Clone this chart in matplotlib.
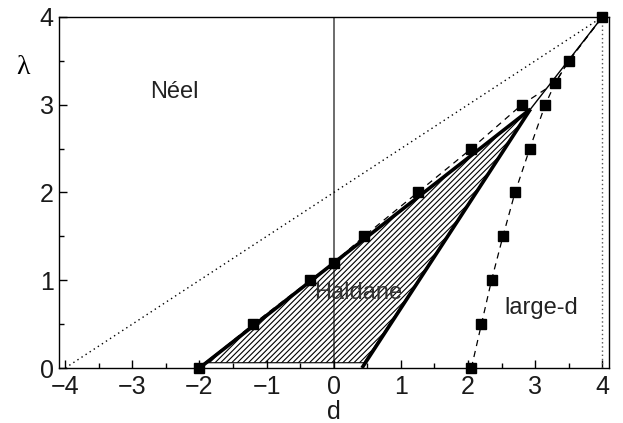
import matplotlib
matplotlib.use("Agg")
import matplotlib.pyplot as plt
from matplotlib.patches import Polygon
from matplotlib.ticker import MultipleLocator

plt.rcParams['font.family'] = ['Liberation Sans', 'DejaVu Sans']
plt.rcParams['hatch.linewidth'] = 0.8

# Néel–Haldane boundary estimates (squares)
left_d = [-2.0, -1.2, -0.35, 0.0, 0.45, 1.25, 2.05, 2.8]
left_lam = [0.0, 0.5, 1.0, 1.2, 1.5, 2.0, 2.5, 3.0]
# Haldane–large-d boundary estimates (squares)
right_d = [2.05, 2.2, 2.35, 2.52, 2.7, 2.92, 3.15]
right_lam = [0.0, 0.5, 1.0, 1.5, 2.0, 2.5, 3.0]
# shared points above the multicritical point
upper_d = [3.3, 3.5, 4.0]
upper_lam = [3.25, 3.5, 4.0]

# Haldane region from the bounds (thick lines)
apex = (2.93, 2.95)
bound_left_d = [-2.0, apex[0]]
bound_left_lam = [0.0, apex[1]]
bound_right_d = [0.42, apex[0]]
bound_right_lam = [0.0, apex[1]]
hatch_d = [-1.92, 0.45, apex[0]]
hatch_lam = [0.06, 0.06, apex[1]]

# critical line from the multicritical point up to (4, 4)
crit_d = [apex[0], 4.0]
crit_lam = [apex[1], 4.0]

# classical reference lines
classic_d = [-4.0, 4.0]
classic_lam = [0.0, 4.0]
vert_d = [4.0, 4.0]
vert_lam = [0.0, 4.0]

fig = plt.figure(figsize=(6.23, 4.23), dpi=100)
ax = fig.add_axes([58.5 / 623, 1 - 368 / 423, (609 - 58.5) / 623, (368 - 17) / 423])

ax.axvline(0.0, color='#444444', lw=1.1, zorder=1)
ax.plot(classic_d, classic_lam, color='black', lw=1.0, ls=(0, (1, 2.5)), zorder=2)
ax.plot(vert_d, vert_lam, color='#555555', lw=1.0, ls=(0, (1, 2)), zorder=2)

poly = Polygon(list(zip(hatch_d, hatch_lam)), closed=True, facecolor='none',
               edgecolor='black', hatch='//////', lw=0.8, zorder=2)
ax.add_patch(poly)

ax.plot(bound_left_d, bound_left_lam, color='black', lw=2.6, solid_capstyle='butt', zorder=3)
ax.plot(bound_right_d, bound_right_lam, color='black', lw=2.6, solid_capstyle='butt', zorder=3)
ax.plot(crit_d, crit_lam, color='black', lw=1.0, zorder=3)

ax.plot(left_d + upper_d, left_lam + upper_lam, color='black', lw=0.9,
        ls=(0, (5, 4)), zorder=3)
ax.plot(right_d + upper_d, right_lam + upper_lam, color='black', lw=0.9,
        ls=(0, (5, 4)), zorder=3)

for dd, ll in ((left_d, left_lam), (right_d, right_lam), (upper_d, upper_lam)):
    ax.plot(dd, ll, ls='none', marker='s', ms=7.5, color='black', zorder=5,
            clip_on=False)

ax.set_xlim(-4.1, 4.1)
ax.set_ylim(0, 4)
ax.xaxis.set_major_locator(MultipleLocator(1))
ax.xaxis.set_minor_locator(MultipleLocator(0.5))
ax.yaxis.set_major_locator(MultipleLocator(1))
ax.yaxis.set_minor_locator(MultipleLocator(0.5))
ax.tick_params(which='both', direction='in', top=False, right=False, width=1.0)
ax.tick_params(which='major', length=6, labelsize=18, labelcolor='#1a1a1a')
ax.tick_params(which='minor', length=3.6)
ax.tick_params(axis='x', which='major', pad=5)
ax.tick_params(axis='y', which='major', pad=3.5)
for s in ax.spines.values():
    s.set_linewidth(1.0)

ax.set_xlabel('d', fontsize=18, labelpad=0.5, color='#1a1a1a')
ax.text(-4.63, 3.42, 'λ', fontsize=20, family=['Liberation Serif', 'DejaVu Serif'],
        ha='center', va='center')

ax.text(-2.74, 3.08, 'Néel', fontsize=17, color='#222222', va='baseline', zorder=6)
ax.text(-0.29, 0.79, 'Haldane', fontsize=17, color='#333333', va='baseline', zorder=6)
ax.text(2.54, 0.61, 'large-d', fontsize=17, color='#222222', va='baseline', zorder=6)

fig.savefig('out.png', dpi=100)
